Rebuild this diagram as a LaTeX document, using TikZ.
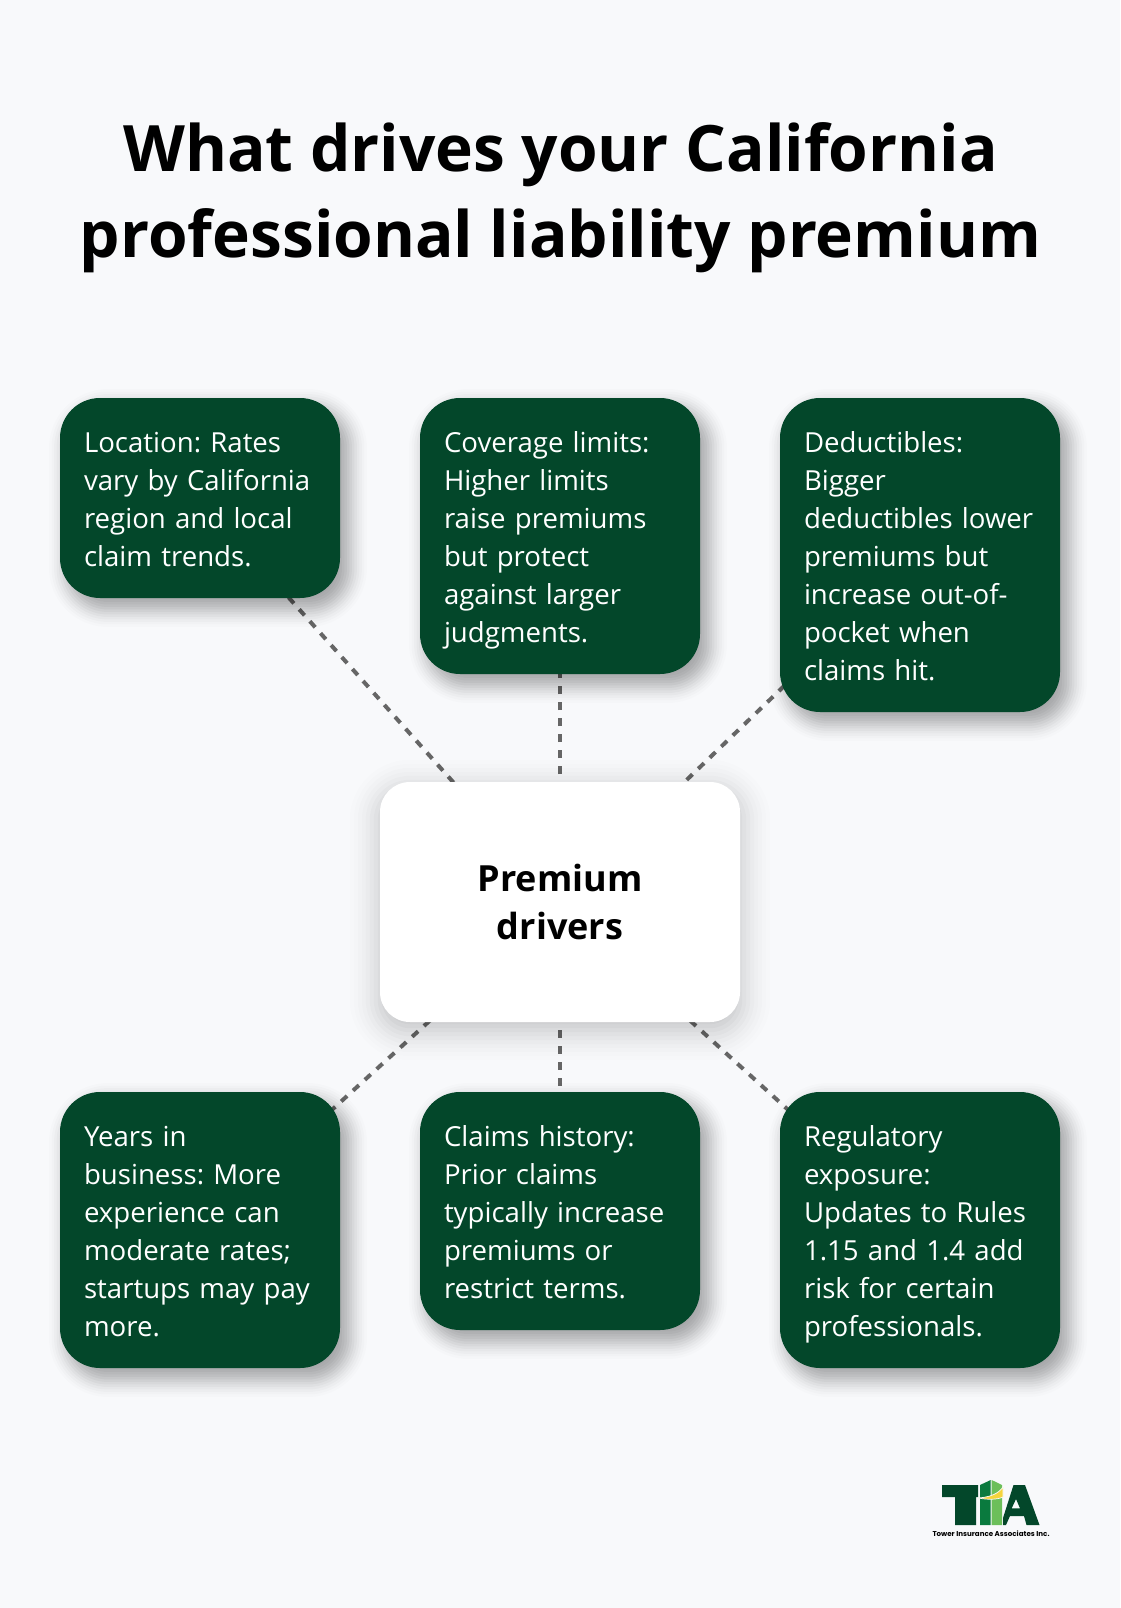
\documentclass[tikz,border=0pt]{standalone}
\usepackage{fontspec}
\setmainfont{Open Sans}
\newfontfamily\logofont{Poppins}
\usetikzlibrary{backgrounds,calc}
\definecolor{pagebg}{HTML}{F8F9FB}
\definecolor{cardgreen}{HTML}{03472A}
\definecolor{dashgray}{HTML}{666666}
\definecolor{towermid}{HTML}{0A7A3E}
\definecolor{towerlight}{HTML}{6CBF5A}
\definecolor{swoosh}{HTML}{F5D43C}
\newcommand{\cardtop}{\rule{0pt}{30pt}}
\newcommand{\cardbot}{\rule[-8pt]{0pt}{8pt}}
\newcommand{\hubtop}{\rule{0pt}{48pt}}
% node, dx, dy, spread, corner radius, total opacity
\newcommand{\softshadow}[6]{
  \foreach \i in {1,...,16}{
    \pgfmathsetmacro\spreadnow{#4*(1-(\i-.5)/8)}
    \pgfmathsetmacro\stepop{#6/16*(.5+sin(180*(\i-.5)/16)^2)}
    \pgfmathsetmacro\radnow{max(#5+\spreadnow,2)}
    \fill[black,fill opacity=\stepop,rounded corners=\radnow pt]
      ($(#1.north west)+(#2-\spreadnow,#3-\spreadnow)$) rectangle ($(#1.south east)+(#2+\spreadnow,#3+\spreadnow)$);
  }
}
\frenchspacing
\begin{document}
\begin{tikzpicture}[x=1pt,y=-1pt,
    card/.style={fill=cardgreen,text=white,rounded corners=40pt,minimum width=280pt,
      text width=232pt,inner sep=0pt,align=left,font=\fontsize{27.6}{38}\selectfont,
      execute at begin node=\cardtop,execute at end node=\cardbot},
    hub/.style={fill=white,text=black,rounded corners=30pt,minimum width=360pt,minimum height=240pt,
      inner sep=0pt,align=center,font=\fontsize{36}{48}\selectfont\bfseries,
      execute at begin node=\hubtop},
    link/.style={draw=dashgray,line width=4pt,dash pattern=on 8pt off 8pt}]
  \useasboundingbox (0,0) rectangle (1120,1608);
  \node[align=center,font=\fontsize{64}{86}\selectfont\bfseries] (title) at (560.5,197.5)
    {What drives your California\\professional liability premium};
  \node[hub] (hub) at (560,902) {Premium\\drivers};
  % top row
  \node[card,minimum height=200pt] (location) at (200,498)
    {Location: Rates\\vary by California\\region and local\\claim trends.};
  \node[card,minimum height=276pt] (limits) at (560,536)
    {Coverage limits:\\Higher limits\\raise premiums\\but protect\\against larger\\judgments.};
  \node[card,minimum height=314pt] (deductibles) at (920,555)
    {Deductibles:\\Bigger\\\mbox{deductibles lower}\\premiums but\\increase out-of-\\pocket when\\claims hit.};
  % bottom row
  \node[card,minimum height=276pt] (years) at (200,1230)
    {Years in\\business: More\\experience can\\moderate rates;\\startups may pay\\more.};
  \node[card,minimum height=238pt] (claims) at (560,1211)
    {Claims history:\\Prior claims\\typically increase\\premiums or\\restrict terms.};
  \node[card,minimum height=276pt] (regulatory) at (920,1230)
    {Regulatory\\exposure:\\Updates to Rules\\1.15 and 1.4 add\\risk for certain\\professionals.};
  \begin{scope}[on background layer]
    \fill[pagebg] (0,0) rectangle (1120,1608);
    \foreach \target in {location,limits,deductibles,years,claims,regulatory}
      \draw[link] (hub.center)--(\target.center);
    \softshadow{hub}{0}{8}{32}{30}{.24}
    \foreach \target in {location,limits,deductibles,years,claims,regulatory}{
      \softshadow{\target}{8}{10}{20}{40}{.42}
    }
  \end{scope}
  % logo
  \fill[cardgreen] (942,1485)--(978,1485)--(978,1497)--(976,1497)--(976,1525)--(955,1525)--(955,1497)--(942,1497)--cycle;
  \fill[towermid] (980,1485)--(990.7,1480)--(990.7,1525)--(980,1525)--cycle;
  \fill[towerlight] (991.7,1480)--(1002,1485)--(1002,1525)--(991.7,1525)--cycle;
  \fill[cardgreen,even odd rule] (1013.5,1485)--(1025,1485)--(1039.5,1525)--(1026.5,1525)--(1024,1516)--(1010,1516)--(1006,1525)--(1003,1525)--(1003,1518)--cycle
    (1016,1499)--(1011.7,1508.3)--(1020,1508.3)--cycle;
  \fill[swoosh,draw=pagebg,line width=.7pt] (978.5,1498).. controls (990,1497) and (998,1494) .. (1003,1487)--(1003,1497).. controls (998,1499.5) and (988,1500) .. (978.5,1498)--cycle;
  \node[font=\logofont\fontsize{7.1}{9}\selectfont\bfseries] (logotext) at (991,1534) {Tower Insurance Associates Inc.};
\end{tikzpicture}
\end{document}
